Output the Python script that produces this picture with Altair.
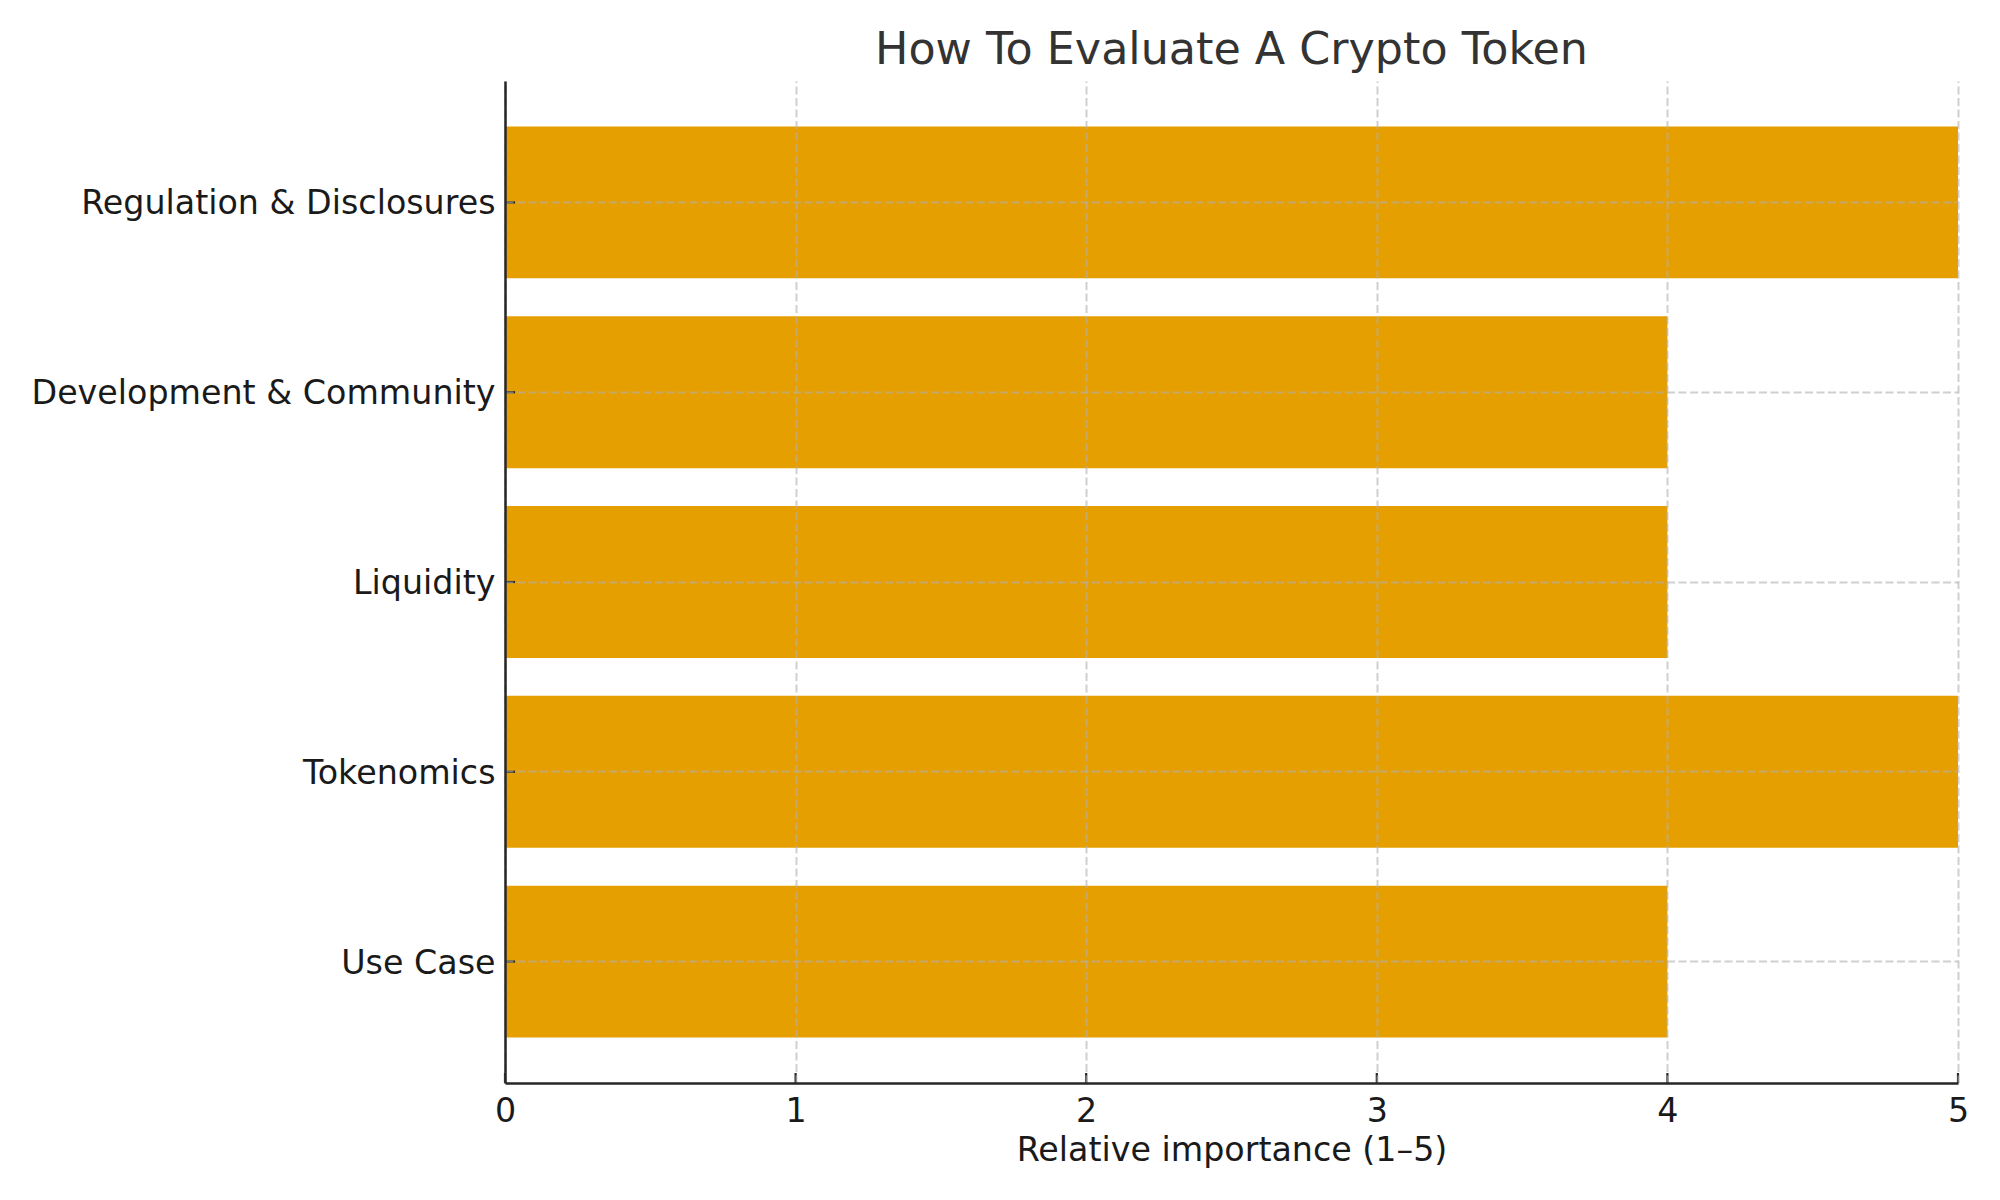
import altair as alt
import pandas as pd

categories = ["Regulation & Disclosures", "Development & Community", "Liquidity", "Tokenomics", "Use Case"]
importance = [5, 4, 4, 5, 4]
x_ticks = [0, 1, 2, 3, 4, 5]

df = pd.DataFrame({"factor": categories, "score": importance})
tick_df = pd.DataFrame({"t": x_ticks})

W, H = 1453, 1002
FONT = "DejaVu Sans"
DARK = "#262626"
XTITLE = "Relative importance (1–5)"

y_scale = alt.Scale(domain=categories, paddingInner=0.2, paddingOuter=0.24)
x_scale = alt.Scale(domain=[0, 5], nice=False, zero=True)

x_axis = alt.Axis(values=x_ticks, title=XTITLE, format="d", grid=True, tickSize=0,
                  labelPadding=12, titlePadding=7, labelFlush=False, zindex=1)
y_axis = alt.Axis(title=None, grid=True, tickSize=0, labelPadding=10, labelOffset=2,
                  bandPosition=0.5, zindex=1)

bars = alt.Chart(df).mark_bar(color="#E69F00").encode(
    x=alt.X("score:Q", scale=x_scale, axis=x_axis, title=XTITLE),
    y=alt.Y("factor:N", scale=y_scale, sort=categories, axis=y_axis, title=None),
)

xt = alt.Chart(tick_df).mark_rule(color=DARK, strokeWidth=2.2).encode(
    x=alt.X("t:Q", scale=x_scale, axis=x_axis, title=XTITLE),
    y=alt.value(H), y2=alt.value(H - 10),
)

yt = alt.Chart(df).mark_rule(color=DARK, strokeWidth=2.2).encode(
    y=alt.Y("factor:N", scale=y_scale, sort=categories, axis=y_axis, title=None),
    x=alt.value(0), x2=alt.value(10),
)

chart = alt.layer(bars, xt, yt).properties(
    width=W, height=H,
    title=alt.TitleParams("How To Evaluate A Crypto Token", font=FONT, fontSize=44.4,
                          fontWeight="normal", color="#333333", anchor="middle",
                          offset=8),
    autosize=alt.AutoSizeParams(type="none"),
    padding={"left": 497, "top": 73, "right": 34, "bottom": 109},
).configure_view(stroke=None).configure_axis(
    labelFont=FONT, labelFontSize=33.3, labelColor="#1a1a1a",
    titleFont=FONT, titleFontSize=33.3, titleColor="#1a1a1a", titleFontWeight="normal",
    domainColor=DARK, domainWidth=2.5,
    gridColor="#b0b0b0", gridOpacity=0.6, gridDash=[8, 3.5], gridWidth=2,
).configure_axisY(labelLimit=0)

chart.save("out.html", embed_options={"renderer": "svg", "actions": False})
